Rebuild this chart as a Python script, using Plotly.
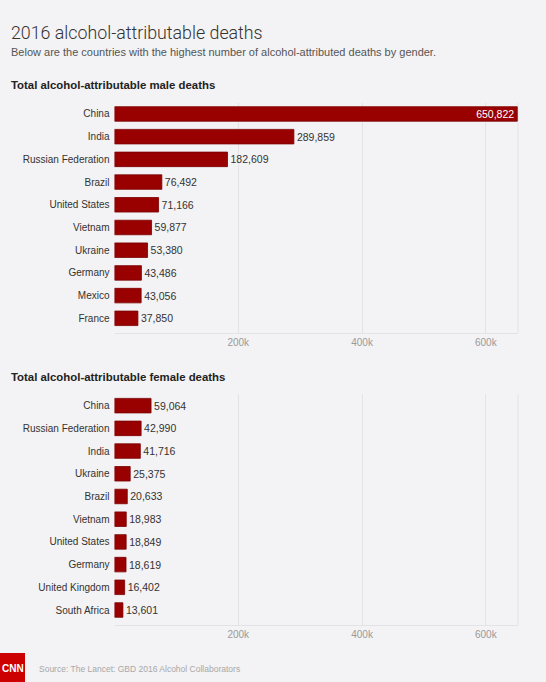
import plotly.graph_objects as go

male_countries = ["China", "India", "Russian Federation", "Brazil", "United States",
                  "Vietnam", "Ukraine", "Germany", "Mexico", "France"]
male_deaths = [650822, 289859, 182609, 76492, 71166, 59877, 53380, 43486, 43056, 37850]

female_countries = ["China", "Russian Federation", "India", "Ukraine", "Brazil",
                    "Vietnam", "United States", "Germany", "United Kingdom", "South Africa"]
female_deaths = [59064, 42990, 41716, 25375, 20633, 18983, 18849, 18619, 16402, 13601]

tick_vals = [200000, 400000, 600000]
tick_text = ["200k", "400k", "600k"]

BG = "#f3f2f4"
BAR = "#990000"
FONT = "Liberation Sans, Arial, sans-serif"

fig = go.Figure()

def add_bars(countries, vals, xa, ya):
    positions = ["inside" if v > 400000 else "outside" for v in vals]
    fig.add_trace(go.Bar(
        y=countries, x=vals, orientation="h", xaxis=xa, yaxis=ya,
        marker=dict(color=BAR, line=dict(color="#7a0000", width=0.8)),
        texttemplate="%{x:,}", textposition=positions,
        insidetextanchor="end", constraintext="none",
        insidetextfont=dict(family=FONT, size=10.5, color="#ffffff"),
        outsidetextfont=dict(family=FONT, size=10.5, color="#333333"),
        cliponaxis=False, showlegend=False, hoverinfo="skip",
    ))

add_bars(male_countries, male_deaths, "x", "y")
add_bars(female_countries, female_deaths, "x2", "y2")

xdom = [114.5 / 546, 518 / 546]
def ydom(top, bottom):
    return [1 - bottom / 682, 1 - top / 682]

xcommon = dict(range=[0, 652000], tickvals=tick_vals, ticktext=tick_text,
               showgrid=True, gridcolor="#e3e3e5", gridwidth=1,
               showline=True, linecolor="#e3e3e5", linewidth=1,
               zeroline=False, ticks="", fixedrange=True,
               tickfont=dict(family=FONT, size=10, color="#9a9a9a"))
ycommon = dict(range=[9.66, -0.5], showgrid=False, zeroline=False, ticks="",
               ticklabelstandoff=4, fixedrange=True,
               tickfont=dict(family=FONT, size=10, color="#333333"))

fig.update_layout(
    width=546, height=682,
    margin=dict(l=0, r=0, t=0, b=0),
    paper_bgcolor=BG, plot_bgcolor=BG,
    bargap=0.36,
    xaxis=dict(domain=xdom, anchor="y", **xcommon),
    yaxis=dict(domain=ydom(102.6, 333.3), anchor="x", **ycommon),
    xaxis2=dict(domain=xdom, anchor="y2", **xcommon),
    yaxis2=dict(domain=ydom(394.3, 625), anchor="x2", **ycommon),
)

# right border lines of plot areas
for xr, yr in [("x domain", "y domain"), ("x2 domain", "y2 domain")]:
    fig.add_shape(type="line", xref=xr, yref=yr, x0=1, x1=1, y0=0, y1=1,
                  line=dict(color="#e3e3e5", width=1), layer="below")

def ann(text, x, y, size, color, family=FONT, weight=None):
    f = dict(family=family, size=size, color=color)
    if weight:
        f["weight"] = weight
    fig.add_annotation(text=text, x=x / 546, y=1 - y / 682, xref="paper", yref="paper",
                       xanchor="left", yanchor="middle", showarrow=False, font=f)

ann("2016 alcohol-attributable deaths", 9, 33, 17.8, "#333333", family="Roboto, sans-serif", weight=300)
ann("Below are the countries with the highest number of alcohol-attributed deaths by gender.",
    9, 52, 11, "#555555")
ann("<b>Total alcohol-attributable male deaths</b>", 9, 85, 11.4, "#222222")
ann("<b>Total alcohol-attributable female deaths</b>", 9, 377, 11.4, "#222222")
ann("Source: The Lancet: GBD 2016 Alcohol Collaborators", 37, 669, 8.5, "#a8a8a8")

# CNN logo
fig.add_shape(type="rect", xref="paper", yref="paper", x0=0, x1=25 / 546,
              y0=0, y1=1 - 653 / 682, fillcolor="#cc0000", line=dict(width=0))
fig.add_annotation(text="<b>CNN</b>", x=12.5 / 546, y=1 - 668 / 682, xref="paper", yref="paper",
                   showarrow=False, xanchor="center", yanchor="middle",
                   font=dict(family=FONT, size=10, color="#ffffff"))

fig.write_html("out.html", config={"displayModeBar": False},
               post_script="document.body.style.margin='0';document.body.style.overflow='hidden';")
